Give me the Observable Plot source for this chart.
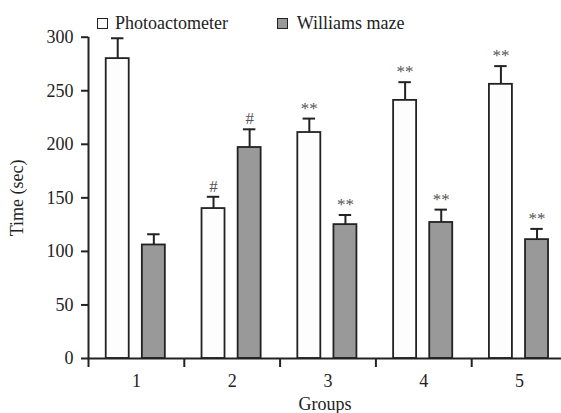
<!DOCTYPE html>
<html><head><meta charset="utf-8">
<script src="https://cdn.jsdelivr.net/npm/d3@7"></script>
<script src="https://cdn.jsdelivr.net/npm/@observablehq/plot@0.6"></script>
<style>
body{margin:0;background:#fff;}
#wrap{position:relative;width:561px;height:413px;overflow:hidden;font-family:'Liberation Serif',Tinos,'DejaVu Serif',serif;}
.sw{position:absolute;box-sizing:border-box;width:11px;height:11px;border:1.6px solid #222;}
.lt{position:absolute;font-size:18px;line-height:18px;color:#222;white-space:nowrap;font-family:'Liberation Serif',Tinos,'DejaVu Serif',serif;}
svg{display:block;}
</style></head>
<body><div id="wrap"></div>
<script>
const groups = [1, 2, 3, 4, 5];
const xTickLabels = ["1", "2", "3", "4", "5"];
const seriesNames = ["Photoactometer", "Williams maze"];
const seriesColors = ["#fdfdfd", "#999999"];
const photoMean = [280, 140, 211, 241, 256];
const photoSem  = [19, 11, 13, 17, 17];
const photoSig  = ["", "#", "**", "**", "**"];
const mazeMean  = [106, 197, 125, 127, 111];
const mazeSem   = [10, 17, 9, 12, 10];
const mazeSig   = ["", "#", "**", "**", "**"];
const yTicks = [0, 50, 100, 150, 200, 250, 300];

const rows = [];
groups.forEach((g, i) => {
  rows.push({group: g, series: seriesNames[0], mean: photoMean[i], sem: photoSem[i], sig: photoSig[i]});
  rows.push({group: g, series: seriesNames[1], mean: mazeMean[i], sem: mazeSem[i], sig: mazeSig[i]});
});
// bar slot within each group (in x units)
const slot = {[seriesNames[0]]: [-0.315, -0.075], [seriesNames[1]]: [0.062, 0.302]};
const cx = d => d.group + (slot[d.series][0] + slot[d.series][1]) / 2;
const boundaries = groups.map(g => g - 0.5).concat([groups[groups.length - 1] + 0.5]);

const ink = "#222";
const serif = "'Liberation Serif', Tinos, 'DejaVu Serif', serif";
const plot = Plot.plot({
  width: 561,
  height: 413,
  marginLeft: 88,
  marginRight: 0,
  marginTop: 36.7,
  marginBottom: 55,
  style: {fontFamily: serif, background: "white", color: ink},
  x: {domain: [0.5, 5.5], range: [88, 567]},
  y: {domain: [0, 300]},
  color: {domain: seriesNames, range: seriesColors},
  marks: [
    Plot.ruleX(rows, {x: cx, y1: "mean", y2: d => d.mean + d.sem, stroke: ink, strokeWidth: 2}),
    Plot.ruleY(rows, {y: d => d.mean + d.sem, x1: d => cx(d) - 0.065, x2: d => cx(d) + 0.065, stroke: ink, strokeWidth: 2}),
    Plot.rectY(rows, {x1: d => d.group + slot[d.series][0], x2: d => d.group + slot[d.series][1], y1: 0, y2: "mean", fill: "series", stroke: ink, strokeWidth: 1.8}),
    Plot.text(rows.filter(d => d.sig), {x: cx, y: d => d.mean + d.sem, text: "sig", lineAnchor: "bottom", dy: -5, fontSize: 17, fill: "#555", fontFamily: serif}),
    Plot.axisY(yTicks, {tickSize: 7, tickPadding: 8, fontSize: 18, strokeWidth: 2, stroke: ink, fill: ink, fontFamily: serif,
      label: "Time (sec)", labelAnchor: "center", labelArrow: "none", labelOffset: 78}),
    Plot.axisX(boundaries, {tickSize: 9, tickFormat: () => "", strokeWidth: 2, stroke: ink, label: null}),
    Plot.axisX(groups, {tickSize: 0, tickPadding: 16, fontSize: 18, fill: ink, fontFamily: serif,
      tickFormat: d => xTickLabels[groups.indexOf(d)],
      label: "Groups", labelAnchor: "center", labelArrow: "none", labelOffset: 51}),
    Plot.ruleX([0.5], {y1: 0, y2: 300, stroke: ink, strokeWidth: 2}),
    Plot.ruleY([0], {stroke: ink, strokeWidth: 2})
  ]
});
const wrap = document.getElementById("wrap");
wrap.appendChild(plot);
const legendPos = [{sq: 96.5, tx: 115}, {sq: 277, tx: 296.7}];
seriesNames.forEach((name, i) => {
  const sq = document.createElement("div");
  sq.className = "sw";
  sq.style.left = legendPos[i].sq + "px";
  sq.style.top = "18.3px";
  sq.style.background = seriesColors[i];
  wrap.appendChild(sq);
  const t = document.createElement("div");
  t.className = "lt";
  t.style.left = legendPos[i].tx + "px";
  t.style.top = "14.2px";
  t.textContent = name;
  wrap.appendChild(t);
});
</script>
</body></html>
